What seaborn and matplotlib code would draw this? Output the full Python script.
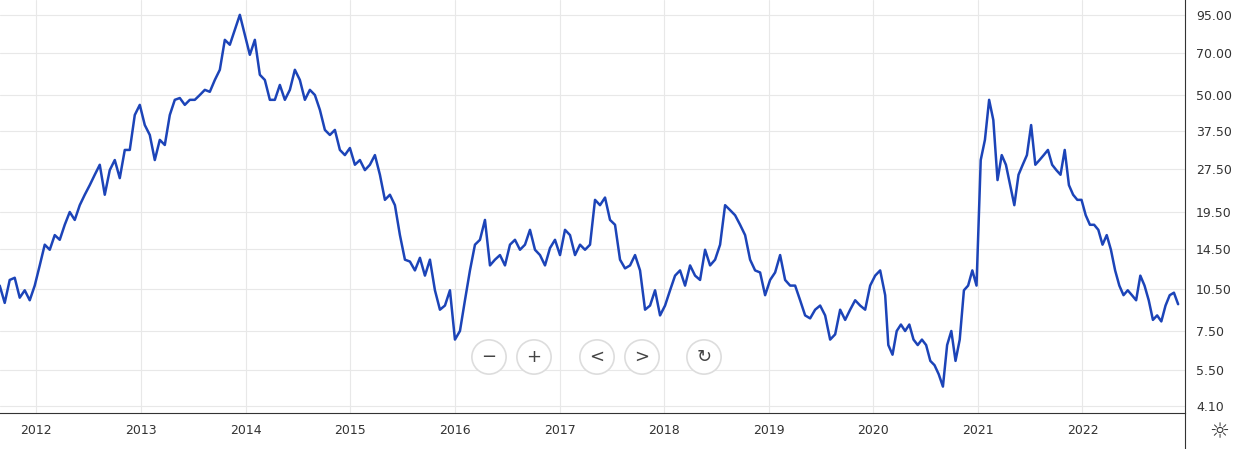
import pandas as pd
import numpy as np
import seaborn as sns
import matplotlib.pyplot as plt
import matplotlib.ticker as mticker

# price series, two stretches
vals_a = [10.8, 9.4, 11.3, 11.5, 9.8, 10.4, 9.6, 10.8, 12.7, 15.0, 14.4, 16.2, 15.6, 17.6, 19.5, 18.3,
          20.6, 22.4, 24.2, 26.3, 28.5, 22.4, 27.3, 29.6, 25.6, 32.1, 32.1, 42.5, 46.1, 39.2, 36.2, 29.6,
          34.8, 33.4, 42.5, 48.0, 48.7, 46.1, 48.0, 48.0, 49.9, 52.0, 51.2, 56.3, 61.1, 77.7, 74.7, 84.2,
          95.0, 80.9, 68.9, 77.7, 58.7, 56.3, 48.0, 48.0, 54.1, 48.0, 52.0, 61.1, 56.3, 48.0, 52.0, 49.9,
          44.3, 37.7, 36.2, 37.7, 32.1, 30.8, 32.6, 28.5, 29.6, 27.3, 28.5, 30.8, 26.3, 21.5, 22.4, 20.6,
          16.2, 13.3, 13.1, 12.2, 13.5, 11.7, 13.3, 10.4, 8.9, 9.2, 10.4, 7.0, 7.5, 9.6, 12.2, 15.0,
          15.6, 18.3, 12.7, 13.3, 13.8, 12.7, 15.0, 15.6, 14.4, 15.0, 16.9, 14.4, 13.8, 12.7, 14.6, 15.6,
          13.8, 16.9, 16.2, 13.8, 15.0, 14.4, 15.0, 21.5, 20.6, 21.9, 18.3, 17.6, 13.3, 12.4, 12.7, 13.8,
          12.2, 8.9, 9.2, 10.4, 8.5, 9.2, 10.4, 11.7, 12.2, 10.8, 12.7, 11.7, 11.3, 14.4, 12.7, 13.3,
          15.0, 20.6, 19.8, 19.0, 17.6, 16.2, 13.3, 12.2, 12.0, 10.0, 11.3, 12.0, 13.8, 11.3, 10.8, 10.8,
          9.6, 8.5, 8.3, 8.9, 9.2, 8.5, 7.0, 7.3, 8.9, 8.2, 8.9, 9.6, 9.2, 8.9, 10.8, 11.7,
          12.2, 10.0]
vals_b = [6.7, 6.2, 7.5, 7.9, 7.5, 7.9, 7.0, 6.7, 7.0, 6.7, 5.9, 5.7, 5.3, 4.8, 6.7, 7.5,
          5.9, 7.0, 10.4, 10.8, 12.2, 10.8, 29.6, 34.8, 48.0, 40.8, 25.2, 30.8, 28.5, 24.2, 20.6, 26.3,
          28.5, 30.8, 39.2, 28.5, 29.6, 30.8, 32.1, 28.5, 27.3, 26.3, 32.1, 24.2, 22.4, 21.5, 21.5, 19.0,
          17.6, 17.6, 16.9, 15.0, 16.2, 14.4, 12.2, 10.8, 10.0, 10.4, 10.0, 9.6, 11.7, 10.8, 9.6, 8.2,
          8.5, 8.1, 9.2, 10.0, 10.2, 9.3]
dates_a = pd.date_range("2011-08-26", "2020-02-12", periods=len(vals_a))
dates_b = pd.date_range("2020-02-23", "2022-12-01", periods=len(vals_b))

df = pd.DataFrame({"date": list(dates_a) + list(dates_b), "price": vals_a + vals_b})

y_ticks = [4.10, 5.50, 7.50, 10.50, 14.50, 19.50, 27.50, 37.50, 50.00, 70.00, 95.00]
years = list(range(2012, 2023))

sns.set_style("white")
fig = plt.figure(figsize=(12.41, 4.49), dpi=100)
ax = fig.add_axes([0, 0.080, 1185 / 1241, 0.92])

sns.lineplot(data=df, x="date", y="price", ax=ax, color="#1c44b8", linewidth=1.8)

ax.set_yscale("log")
ax.set_ylim(3.88, 107)
ax.set_xlim(pd.Timestamp("2011-08-27"), pd.Timestamp("2022-12-25"))
ax.set_yticks(y_ticks)
ax.yaxis.set_major_formatter(mticker.FuncFormatter(lambda v, p: f"{v:.2f}"))
ax.yaxis.set_minor_locator(mticker.NullLocator())
ax.yaxis.tick_right()
year_dates = [pd.Timestamp(f"{y}-01-01") for y in years]
ax.set_xticks(year_dates)
ax.set_xticklabels([str(y) for y in years])
ax.tick_params(axis="both", labelsize=9, colors="#333333", length=0, pad=8)
ax.grid(True, color="#e8e8e8", linewidth=0.8)
ax.set_xlabel("")
ax.set_ylabel("")
for s in ["top", "left"]:
    ax.spines[s].set_visible(False)
ax.spines["bottom"].set_color("#333333")
ax.spines["right"].set_color("#333333")

# axis separators continuing into the margins
fig.add_artist(plt.Line2D([1185 / 1241] * 2, [0, 0.08], color="#333333", linewidth=0.8))
fig.text(1219 / 1241, 1 - 432 / 449, "\u263c", fontsize=16, ha="center", va="center", color="#333333")

# zoom / navigation buttons
for xp, lab in [(489, "\u2212"), (534, "+"), (597, "<"), (642, ">"), (704, "\u21bb")]:
    fig.text(xp / 1241, 1 - 357 / 449, lab, fontsize=13, ha="center", va="center", color="#444444",
             bbox=dict(boxstyle="circle,pad=0.45", fc="white", ec="#dddddd", lw=1.2))

plt.savefig("out.png", dpi=100)
